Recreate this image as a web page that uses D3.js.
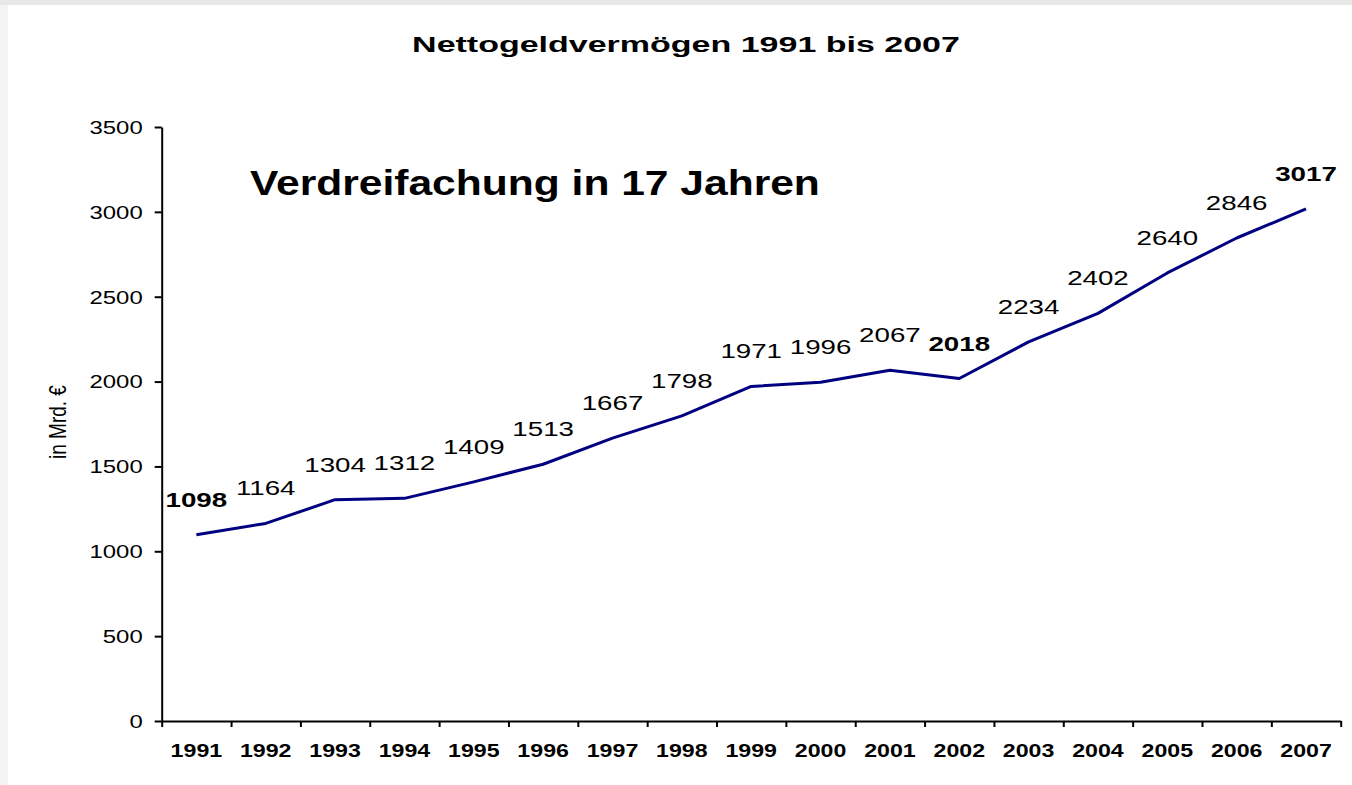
<!DOCTYPE html>
<meta charset="utf-8">
<title>Nettogeldvermögen 1991 bis 2007</title>
<style>
  body { margin: 0; background: #f3f3f3; }
  svg { display: block; }
  text { font-family: Arial, "Liberation Sans", sans-serif; fill: #000; }
  .axis path, .axis line { stroke: #000; stroke-width: 2px; }
  .label { font-size: 21px; }
  .label.bold { font-weight: bold; }
</style>
<script src="https://d3js.org/d3.v7.min.js"></script>
<div id="chart"></div>
<script>
// data
var years = ["1991","1992","1993","1994","1995","1996","1997","1998","1999",
             "2000","2001","2002","2003","2004","2005","2006","2007"];
var values = [1098, 1164, 1304, 1312, 1409, 1513, 1667, 1798, 1971,
              1996, 2067, 2018, 2234, 2402, 2640, 2846, 3017];
var boldYears = ["1991", "2002", "2007"];
var yTicks = [0, 500, 1000, 1500, 2000, 2500, 3000, 3500];

var W = 1352, H = 785;
var plotLeft = 161.7, plotRight = 1340.7, plotTop = 127, plotBottom = 721;

var svg = d3.select("#chart").append("svg")
    .attr("width", W).attr("height", H);

// background frame
svg.append("rect").attr("width", W).attr("height", H).attr("fill", "#f3f3f3");
svg.append("rect").attr("width", W).attr("height", 5).attr("fill", "#e7e7e7");
svg.append("rect").attr("x", 8).attr("y", 5).attr("width", W - 8).attr("height", H - 5).attr("fill", "#fff");

var x = d3.scaleBand().domain(years).range([plotLeft, plotRight]).paddingInner(0).paddingOuter(0);
var xEdge = d3.scaleLinear().domain([0, years.length]).range([plotLeft, plotRight]);
var y = d3.scaleLinear().domain([0, 3500]).range([plotBottom, plotTop]);

// stretch text horizontally like the original slide
function stretch(sel, sx) {
  sel.each(function() {
    var t = d3.select(this);
    var tx = +t.attr("x") || 0, ty = +t.attr("y") || 0;
    t.attr("x", 0).attr("y", 0)
     .attr("transform", "translate(" + tx + "," + ty + ") scale(" + sx + ",1)");
  });
}
function fitWidth(sel, w) {
  var len = sel.node().getComputedTextLength();
  stretch(sel, w / len);
}

// y axis
var yAxis = svg.append("g").attr("class", "axis")
    .attr("transform", "translate(" + plotLeft + ",0)")
    .call(d3.axisLeft(y).tickValues(yTicks).tickFormat(d3.format("d"))
      .tickSize(7).tickPadding(12).tickSizeOuter(0));
yAxis.selectAll("text")
    .style("font-size", "18px")
    .attr("dy", null)
    .attr("dominant-baseline", "central")
    .call(stretch, 1.33);

// x axis: ticks at category edges
svg.append("g").attr("class", "axis")
    .attr("transform", "translate(0," + plotBottom + ")")
    .call(d3.axisBottom(xEdge).tickValues(d3.range(years.length + 1)).tickSize(6).tickSizeOuter(0).tickFormat(""));

var xLab = svg.append("g").attr("class", "axis xlab")
    .attr("transform", "translate(0," + plotBottom + ")")
    .call(d3.axisBottom(x).tickSize(0).tickPadding(0));
xLab.select(".domain").remove();
xLab.selectAll("text")
    .style("font-size", "19px").style("font-weight", "bold")
    .attr("dy", null)
    .attr("y", 36)
    .call(stretch, 1.22);

// line
var line = d3.line()
    .x(function(d, i) { return x(years[i]) + x.bandwidth() / 2; })
    .y(function(d) { return y(d); });

svg.append("path")
    .datum(values)
    .attr("fill", "none")
    .attr("stroke", "#000080")
    .attr("stroke-width", 3)
    .attr("stroke-linejoin", "round")
    .attr("d", line);

// data labels
svg.selectAll("text.label")
    .data(values)
    .enter().append("text")
    .attr("class", function(d, i) { return boldYears.indexOf(years[i]) >= 0 ? "label bold" : "label"; })
    .attr("text-anchor", "middle")
    .attr("x", function(d, i) { return x(years[i]) + x.bandwidth() / 2; })
    .attr("y", function(d) { return y(d) - 28; })
    .text(function(d) { return d; })
    .call(stretch, 1.32);

// title
svg.append("text")
    .attr("x", 686).attr("y", 52)
    .attr("text-anchor", "middle")
    .style("font-size", "22px").style("font-weight", "bold")
    .text("Nettogeldvermögen 1991 bis 2007")
    .call(fitWidth, 548);

// annotation
svg.append("text")
    .attr("x", 250).attr("y", 195)
    .style("font-size", "36px").style("font-weight", "bold")
    .text("Verdreifachung in 17 Jahren")
    .call(fitWidth, 570);

// y axis title
svg.append("text")
    .attr("text-anchor", "middle")
    .attr("transform", "translate(66,422) scale(1.27,1) rotate(-90)")
    .style("font-size", "19px")
    .text("in Mrd. €");
</script>
